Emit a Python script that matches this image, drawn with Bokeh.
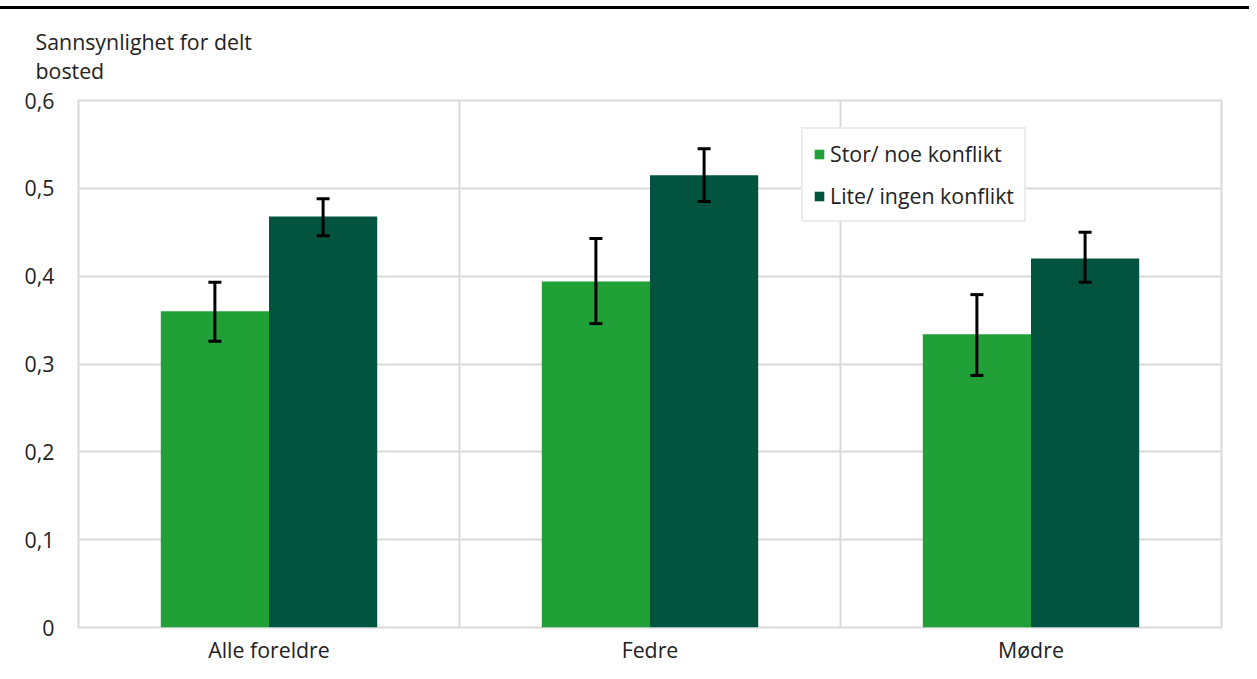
import numpy as np
from bokeh.plotting import figure
from bokeh.models import (ColumnDataSource, FixedTicker, Whisker, TeeHead, Title,
                          Legend, LegendItem, Div)
from bokeh.layouts import column
from bokeh.embed import file_html
from bokeh.resources import INLINE

categories = ["Alle foreldre", "Fedre", "Mødre"]
series_names = ["Stor/ noe konflikt", "Lite/ ingen konflikt"]
stor_vals = [0.360, 0.394, 0.334]
stor_low = [0.326, 0.346, 0.287]
stor_high = [0.393, 0.443, 0.379]
lite_vals = [0.468, 0.515, 0.420]
lite_low = [0.446, 0.485, 0.393]
lite_high = [0.488, 0.545, 0.450]
y_ticks = [0, 0.1, 0.2, 0.3, 0.4, 0.5, 0.6]
y_tick_labels = ["0", "0,1", "0,2", "0,3", "0,4", "0,5", "0,6"]
y_title = "Sannsynlighet for delt\nbosted"
colors = ["#21a038", "#02543f"]

FONT = "Open Sans"
FS = "16pt"
TXT = "#222222"
GRID = "#d9d9d9"

bar_w = 0.284
centers = np.arange(len(categories)) + 0.5

src_stor = ColumnDataSource(dict(x=centers - bar_w / 2, top=stor_vals,
                                 lower=stor_low, upper=stor_high))
src_lite = ColumnDataSource(dict(x=centers + bar_w / 2, top=lite_vals,
                                 lower=lite_low, upper=lite_high))

p = figure(width=1249, height=666, x_range=(0, len(categories)), y_range=(0, 0.6),
           output_backend="svg", toolbar_location=None,
           min_border_left=78, min_border_right=28, min_border_top=91,
           min_border_bottom=48)

p.add_layout(Title(text=y_title, align="left", offset=-43,
                   text_font=FONT, text_font_size=FS, text_font_style="normal",
                   text_color=TXT, text_line_height=1.03, standoff=30), "above")

r1 = p.vbar(x="x", top="top", width=bar_w, source=src_stor, color=colors[0], line_color=None)
r2 = p.vbar(x="x", top="top", width=bar_w, source=src_lite, color=colors[1], line_color=None)

for src in (src_stor, src_lite):
    w = Whisker(source=src, base="x", lower="lower", upper="upper",
                line_color="black", line_width=3, level="overlay",
                upper_head=TeeHead(size=13, line_width=3, line_color="black"),
                lower_head=TeeHead(size=13, line_width=3, line_color="black"))
    p.add_layout(w)

p.outline_line_color = GRID
p.outline_line_width = 2
p.ygrid.grid_line_color = GRID
p.ygrid.grid_line_width = 2
p.xgrid.ticker = FixedTicker(ticks=[1, 2])
p.xgrid.grid_line_color = GRID
p.xgrid.grid_line_width = 2

p.xaxis.ticker = FixedTicker(ticks=list(centers))
p.xaxis.major_label_overrides = {float(c): n for c, n in zip(centers, categories)}
p.yaxis.ticker = FixedTicker(ticks=y_ticks)
p.yaxis.major_label_overrides = {t: l for t, l in zip(y_ticks, y_tick_labels)}
for ax in (p.xaxis, p.yaxis):
    ax.axis_line_color = None
    ax.major_tick_line_color = None
    ax.minor_tick_line_color = None
    ax.major_tick_out = 0
    ax.major_tick_in = 0
    ax.minor_tick_out = 0
    ax.major_label_text_font = FONT
    ax.major_label_text_font_size = FS
    ax.major_label_text_color = TXT
p.xaxis.major_label_standoff = 7
p.yaxis.major_label_standoff = 24

legend = Legend(items=[LegendItem(label=series_names[0], renderers=[r1]),
                       LegendItem(label=series_names[1], renderers=[r2])],
                location=(723, 405), orientation="vertical",
                label_text_font=FONT, label_text_font_size=FS, label_text_color=TXT,
                glyph_width=12, glyph_height=12, label_standoff=5, spacing=13,
                padding=10, margin=0, border_line_color=GRID, border_line_width=2,
                background_fill_color="white", background_fill_alpha=1)
p.add_layout(legend, "center")

top_line = Div(text="", width=1249, height=9,
               styles={"border-bottom": "3px solid black", "margin": "0",
                       "box-sizing": "border-box"})

layout = column(top_line, p, spacing=0)

open("out.html", "w").write(file_html(layout, INLINE))
